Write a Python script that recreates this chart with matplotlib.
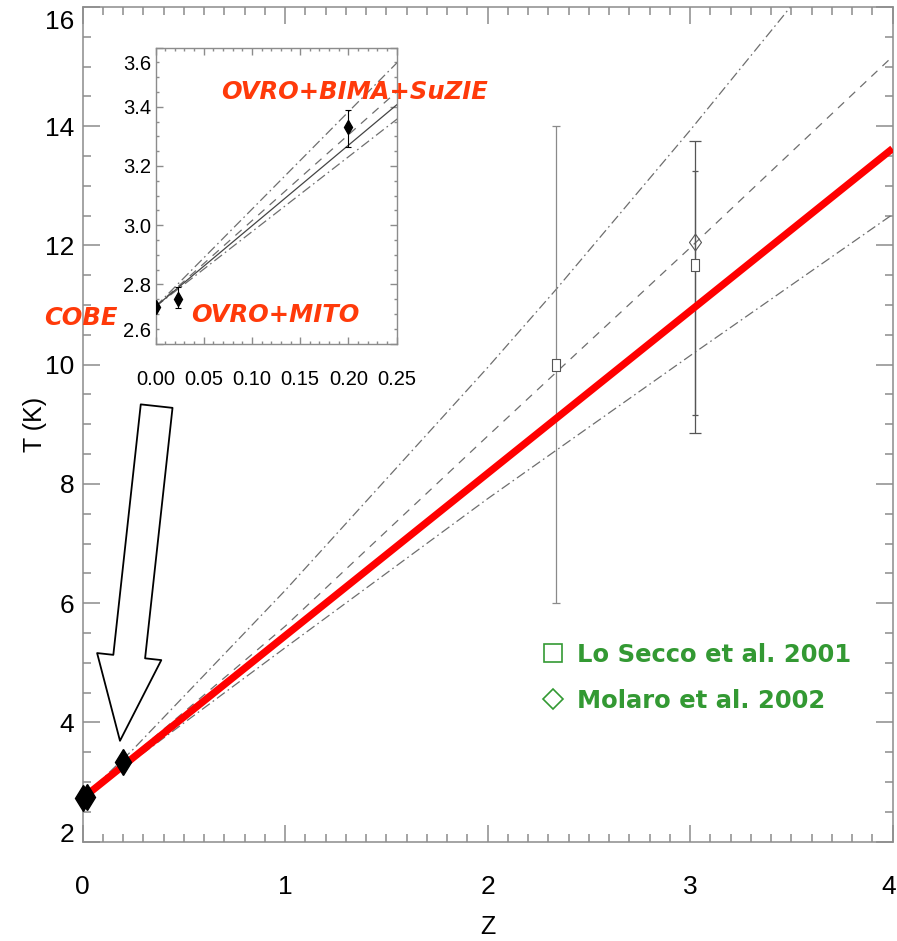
import matplotlib
matplotlib.use("Agg")
import matplotlib.pyplot as plt
import matplotlib.transforms as mtransforms
from matplotlib.lines import Line2D
from matplotlib.ticker import MultipleLocator

plt.rcParams["lines.scale_dashes"] = False
plt.rcParams["font.family"] = ["Liberation Sans", "DejaVu Sans"]

T0 = 2.725

# model curves T(z)
upper_z = [0.0, 0.25, 1.0, 2.0, 2.338, 3.0, 3.46, 3.6]
upper_t = [2.725, 3.547, 6.21, 9.95, 11.26, 13.93, 15.85, 16.45]
dashed_z = [0.0, 0.25, 1.0, 2.0, 3.0, 4.0]
dashed_t = [2.725, 3.45, 5.61, 8.80, 11.96, 15.17]
lower_z = [0.0, 0.25, 1.0, 2.0, 3.0, 4.0]
lower_t = [2.725, 3.357, 5.25, 7.75, 10.15, 12.52]
adiab_z = [0.0, 0.25, 1.0, 2.0, 3.0, 4.0]
adiab_t = [2.725, 3.406, 5.45, 8.175, 10.9, 13.625]
red_z = [0.03, 1.0, 2.0, 3.0, 4.0]
red_t = [2.807, 5.45, 8.175, 10.9, 13.625]

# low-z measurements (COBE, OVRO+MITO, OVRO+BIMA+SuZIE)
lowz_z = [0.0, 0.023, 0.2]
lowz_t = [2.725, 2.75, 3.33]
lowz_lo = [2.724, 2.72, 3.265]
lowz_hi = [2.726, 2.79, 3.39]

# quasar absorber points
losecco_z = [2.338, 3.025]
losecco_t = [10.0, 11.67]
losecco_lo = [6.0, 9.16]
losecco_hi = [14.0, 13.25]
molaro_z = [3.025]
molaro_t = [12.06]
molaro_lo = [8.86]
molaro_hi = [13.75]

RED_TXT = "#ff3a0a"
GREEN = "#339933"
AX_GRAY = "#8c8c8c"
LINE_GRAY = "#6e6e6e"

DASHED = (0, (6.0, 5.0))
DASHDOT = (0, (7.0, 2.6, 1.2, 2.6))

tall_square = [(-0.32, -0.5), (0.32, -0.5), (0.32, 0.5), (-0.32, 0.5), (-0.32, -0.5)]
tall_diamond = [(0, 1), (0.72, 0), (0, -1), (-0.72, 0), (0, 1)]


def shift_label(tick, dx_px, dy_px, fig):
    off = mtransforms.ScaledTranslation(dx_px / 100, dy_px / 100, fig.dpi_scale_trans)
    tick.label1.set_transform(tick.label1.get_transform() + off)


def style_axes(ax, size, length, pad_x, pad_y, width):
    for s in ax.spines.values():
        s.set_color(AX_GRAY)
        s.set_linewidth(width)
    ax.tick_params(which="both", direction="in", top=True, right=True,
                   color=AX_GRAY, width=width, labelsize=size)
    ax.tick_params(which="major", length=length)
    ax.tick_params(which="minor", length=length * 0.5)
    ax.tick_params(axis="x", pad=pad_x)
    ax.tick_params(axis="y", pad=pad_y)


def asym_err(vals, lo, hi):
    return [[v - l for v, l in zip(vals, lo)], [h - v for v, h in zip(vals, hi)]]


fig = plt.figure(figsize=(8.97, 9.41), dpi=100)
ax = fig.add_axes([0.0920, 0.1057, 0.9030, 0.8868])

ax.plot(upper_z, upper_t, color=LINE_GRAY, lw=0.9, linestyle=DASHDOT)
ax.plot(dashed_z, dashed_t, color=LINE_GRAY, lw=0.9, linestyle=DASHED)
ax.plot(lower_z, lower_t, color=LINE_GRAY, lw=0.9, linestyle=DASHDOT)
ax.plot(red_z, red_t, color="#ff0000", lw=5.2, solid_capstyle="butt", zorder=4)

ax.errorbar(lowz_z, lowz_t, yerr=asym_err(lowz_t, lowz_lo, lowz_hi),
            fmt="d", color="black", ms=13, capsize=0, elinewidth=1,
            zorder=5, clip_on=False)

ax.errorbar(losecco_z[:1], losecco_t[:1],
            yerr=asym_err(losecco_t[:1], losecco_lo[:1], losecco_hi[:1]),
            fmt="none", ecolor="#8a8a8a", elinewidth=0.9, capsize=3, capthick=0.9)
ax.errorbar(losecco_z[1:], losecco_t[1:],
            yerr=asym_err(losecco_t[1:], losecco_lo[1:], losecco_hi[1:]),
            fmt="none", ecolor="#555555", elinewidth=0.9, capsize=2, capthick=0.9)
ax.errorbar(molaro_z, molaro_t, yerr=asym_err(molaro_t, molaro_lo, molaro_hi),
            fmt="none", ecolor="#555555", elinewidth=0.9, capsize=4, capthick=0.9)
ax.plot(losecco_z, losecco_t, linestyle="none", marker=tall_square, ms=8,
        mfc="white", mec="#555555", mew=0.8, zorder=5)
ax.plot(molaro_z, molaro_t, linestyle="none", marker=tall_diamond, ms=12,
        mfc="none", mec="#555555", mew=0.8, zorder=5)

ax.set_xlim(0, 4)
ax.set_ylim(2, 16)
ax.set_xticks([0, 1, 2, 3, 4])
ax.set_yticks([2, 4, 6, 8, 10, 12, 14, 16])
ax.xaxis.set_minor_locator(MultipleLocator(0.1))
ax.yaxis.set_minor_locator(MultipleLocator(0.5))
style_axes(ax, 19, 12, 24, 6, 1.1)
ax.set_xlabel("Z", fontsize=18, va="center")
ax.set_ylabel("T (K)", fontsize=18, va="center")
ax.xaxis.set_label_coords(0.5, -0.1025)
ax.yaxis.set_label_coords(-0.0586, 0.5)

yt = ax.yaxis.get_major_ticks()
shift_label(yt[0], 0, 9, fig)
shift_label(yt[-1], 0, -12, fig)
xt = ax.xaxis.get_major_ticks()
shift_label(xt[-1], -4, 0, fig)

# hollow arrow pointing at the low-redshift points
ax.annotate("", xy=(0.185, 3.69), xytext=(0.366, 9.305),
            arrowprops=dict(arrowstyle="simple,head_length=6.1,head_width=4.65,tail_width=2.3",
                            mutation_scale=10, fc="white", ec="black", lw=1.3,
                            shrinkA=0, shrinkB=0), zorder=6)

handles = [
    Line2D([], [], linestyle="none", marker="s", ms=13.5, mfc="none", mec=GREEN, mew=1.2),
    Line2D([], [], linestyle="none", marker="D", ms=10, mfc="none", mec=GREEN, mew=1.2),
]
ax.legend(handles, ["Lo Secco et al. 2001", "Molaro et al. 2002"],
          loc="upper left", bbox_to_anchor=(0.566, 0.238), frameon=False,
          borderpad=0, borderaxespad=0, handlelength=1.0, handletextpad=0.5,
          labelspacing=0.9, prop=dict(family="DejaVu Sans", weight="bold", size=17.5),
          labelcolor=GREEN)

# inset zoom on the low-redshift range
ins = fig.add_axes([0.1734, 0.6349, 0.2687, 0.3146])
ins.set_facecolor("white")
ins.plot(upper_z, upper_t, color=LINE_GRAY, lw=0.9, linestyle=DASHDOT)
ins.plot(dashed_z, dashed_t, color=LINE_GRAY, lw=0.9, linestyle=DASHED)
ins.plot(lower_z, lower_t, color=LINE_GRAY, lw=0.9, linestyle=DASHDOT)
ins.plot(adiab_z, adiab_t, color="#444444", lw=0.9)
ins.errorbar(lowz_z, lowz_t, yerr=asym_err(lowz_t, lowz_lo, lowz_hi),
             fmt="d", color="black", ms=7, capsize=2, elinewidth=0.8, capthick=0.8,
             zorder=5)
ins.set_xlim(0, 0.25)
ins.set_ylim(2.6, 3.6)
ins.set_xticks([0.0, 0.05, 0.10, 0.15, 0.20, 0.25])
ins.set_yticks([2.6, 2.8, 3.0, 3.2, 3.4, 3.6])
ins.xaxis.set_minor_locator(MultipleLocator(0.01))
ins.yaxis.set_minor_locator(MultipleLocator(0.05))
ins.xaxis.set_major_formatter(plt.FormatStrFormatter("%.2f"))
ins.yaxis.set_major_formatter(plt.FormatStrFormatter("%.1f"))
style_axes(ins, 14.5, 5, 19, 3, 1.0)
it = ins.yaxis.get_major_ticks()
shift_label(it[0], 0, 14.5, fig)
shift_label(it[-1], 0, -15, fig)

# experiment labels, drawn on top of the inset
txt = dict(color=RED_TXT, fontsize=17.5, fontweight="bold", style="italic",
           family="DejaVu Sans", ha="center", va="center", zorder=8, clip_on=False,
           transform=ax.transData)
ins.text(1.341, 14.58, "OVRO+BIMA+SuZIE", **txt)
ins.text(-0.007, 10.78, "COBE", **txt)
ins.text(0.953, 10.83, "OVRO+MITO", **txt)

fig.savefig("out.png", dpi=100, facecolor="white")
